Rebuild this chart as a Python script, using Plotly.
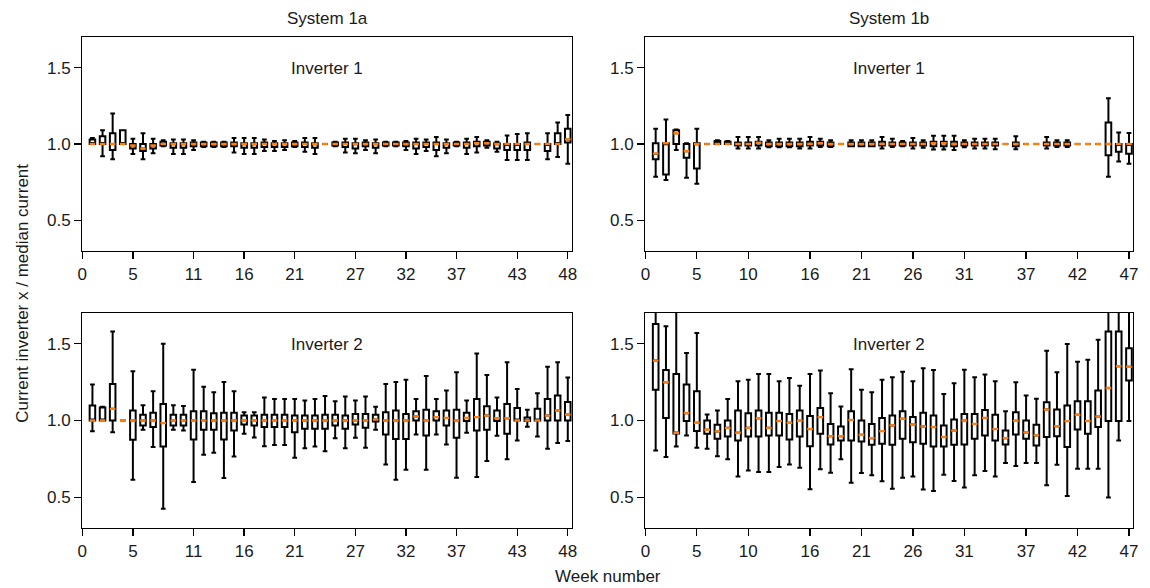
import plotly.graph_objects as go

# ---------------- data ----------------
weeks_1a = list(range(1, 49))
weeks_1b = list(range(1, 48))

xticks_1a = [0, 5, 11, 16, 21, 27, 32, 37, 43, 48]
xticks_1b = [0, 5, 10, 16, 21, 26, 31, 37, 42, 47]
yticks = [0.5, 1.0, 1.5]

# System 1a, Inverter 1
a1_low = [1.0, 0.92, 0.90, 1.0, 0.935, 0.90, 0.94, 0.985, 0.935, 0.935, 0.96, 0.98, 0.98, 0.98, 0.945, 0.935,
          0.935, 0.955, 0.955, 0.96, 0.98, 0.95, 0.935, 1.0, 0.985, 0.945, 0.94, 0.96, 0.94, 0.985, 0.985, 0.96,
          0.935, 0.955, 0.92, 0.94, 0.985, 0.935, 0.945, 0.975, 0.95, 0.895, 0.895, 0.895, 1.0, 0.90, 0.915, 0.87]
a1_q1 = [1.0, 1.0, 0.96, 1.0, 0.97, 0.955, 0.97, 0.99, 0.975, 0.975, 0.985, 0.985, 0.985, 0.985, 0.985, 0.975,
         0.975, 0.98, 0.98, 0.98, 0.985, 0.98, 0.975, 1.0, 0.99, 0.98, 0.97, 0.985, 0.975, 0.99, 0.99, 0.985,
         0.97, 0.98, 0.96, 0.975, 0.99, 0.975, 0.985, 0.99, 0.97, 0.96, 0.96, 0.96, 1.0, 0.955, 1.0, 1.01]
a1_med = [1.0, 1.0, 1.0, 1.0, 0.99, 0.97, 0.99, 1.0, 1.0, 1.0, 1.0, 1.0, 1.0, 1.0, 1.0, 1.0,
          1.0, 1.0, 1.0, 1.0, 1.0, 1.0, 1.0, 1.0, 1.0, 1.0, 1.0, 1.0, 1.0, 1.0, 1.0, 1.0,
          1.0, 1.0, 1.0, 1.0, 1.0, 1.0, 1.005, 1.005, 1.0, 1.0, 1.0, 1.0, 1.0, 1.0, 1.0, 1.03]
a1_q3 = [1.03, 1.05, 1.07, 1.09, 1.0, 1.0, 1.0, 1.015, 1.005, 1.005, 1.01, 1.01, 1.01, 1.01, 1.01, 1.005,
         1.005, 1.01, 1.005, 1.005, 1.01, 1.01, 1.005, 1.0, 1.01, 1.01, 1.005, 1.01, 1.005, 1.01, 1.01, 1.01,
         1.01, 1.01, 1.01, 1.005, 1.01, 1.01, 1.015, 1.015, 1.005, 1.0, 1.0, 1.01, 1.0, 1.0, 1.07, 1.10]
a1_high = [1.04, 1.09, 1.20, 1.09, 1.035, 1.07, 1.035, 1.025, 1.03, 1.03, 1.025, 1.015, 1.015, 1.015, 1.04, 1.04,
           1.04, 1.03, 1.02, 1.025, 1.02, 1.04, 1.04, 1.0, 1.015, 1.035, 1.035, 1.025, 1.03, 1.015, 1.015, 1.02,
           1.035, 1.03, 1.045, 1.03, 1.015, 1.035, 1.045, 1.025, 1.015, 1.055, 1.065, 1.07, 1.0, 1.07, 1.14, 1.19]

# System 1b, Inverter 1
b1_low = [0.785, 0.765, 0.96, 0.78, 0.74, 1.0, 1.0, 1.0, 0.97, 0.97, 0.97, 0.978, 0.978, 0.978, 0.97, 0.97,
          0.98, 0.98, 1.0, 0.985, 0.985, 0.985, 0.97, 0.98, 0.985, 0.97, 0.975, 0.964, 0.964, 0.96, 0.978, 0.97,
          0.97, 0.965, 1.0, 0.965, 1.0, 1.0, 0.97, 0.98, 0.98, 1.0, 1.0, 1.0, 0.785, 0.886, 0.87]
b1_q1 = [0.90, 0.80, 1.0, 0.91, 0.84, 1.0, 1.0, 1.0, 0.99, 0.99, 0.99, 0.985, 0.985, 0.985, 0.985, 0.99,
         0.99, 0.985, 1.0, 0.985, 0.985, 0.985, 0.99, 0.99, 0.99, 0.99, 0.99, 0.985, 0.985, 0.985, 0.99, 0.99,
         0.99, 0.99, 1.0, 0.985, 1.0, 1.0, 0.99, 0.99, 0.99, 1.0, 1.0, 1.0, 0.926, 0.95, 0.937]
b1_med = [0.937, 1.005, 1.07, 0.953, 1.0, 1.0, 1.0, 1.0, 1.0, 1.0, 1.008, 1.0, 1.0, 1.0, 1.0, 1.0,
          1.005, 1.0, 1.0, 1.0, 1.0, 1.0, 1.0, 1.0, 1.0, 1.0, 1.0, 1.005, 1.005, 1.0, 1.0, 1.0,
          1.0, 1.0, 1.0, 1.0, 1.0, 1.0, 1.0, 1.0, 1.0, 1.0, 1.0, 1.0, 1.0, 1.0, 1.0]
b1_q3 = [1.005, 1.005, 1.09, 1.0, 1.005, 1.0, 1.02, 1.015, 1.01, 1.01, 1.015, 1.01, 1.01, 1.01, 1.01, 1.015,
         1.015, 1.01, 1.0, 1.01, 1.01, 1.01, 1.015, 1.01, 1.01, 1.01, 1.01, 1.015, 1.015, 1.015, 1.01, 1.01,
         1.01, 1.01, 1.0, 1.01, 1.0, 1.0, 1.01, 1.01, 1.01, 1.0, 1.0, 1.0, 1.14, 1.0, 1.0]
b1_high = [1.10, 1.16, 1.095, 1.005, 1.10, 1.0, 1.025, 1.02, 1.045, 1.045, 1.045, 1.025, 1.035, 1.035, 1.035, 1.045,
           1.035, 1.025, 1.0, 1.025, 1.025, 1.025, 1.045, 1.035, 1.02, 1.04, 1.025, 1.054, 1.054, 1.054, 1.025, 1.035,
           1.035, 1.035, 1.0, 1.05, 1.0, 1.0, 1.045, 1.025, 1.025, 1.0, 1.0, 1.0, 1.30, 1.076, 1.072]

# System 1a, Inverter 2
a2_low = [0.93, 1.0, 0.924, 1.0, 0.615, 0.94, 0.827, 0.426, 0.94, 0.935, 0.60, 0.777, 0.79, 0.625, 0.766, 0.913,
          0.89, 0.833, 0.84, 0.84, 0.758, 0.82, 0.83, 0.80, 0.885, 0.82, 0.887, 0.823, 0.94, 0.714, 0.615, 0.68,
          0.909, 0.68, 0.909, 0.844, 0.628, 0.92, 0.632, 0.736, 0.90, 0.747, 0.87, 0.96, 0.896, 0.816, 0.853, 0.866]
a2_q1 = [1.0, 1.0, 1.0, 1.0, 0.874, 0.968, 0.957, 0.83, 0.968, 0.968, 0.877, 0.94, 0.94, 0.877, 0.935, 0.974,
         0.968, 0.957, 0.957, 0.957, 0.924, 0.946, 0.946, 0.946, 0.968, 0.946, 0.974, 0.952, 0.994, 0.909, 0.88, 0.88,
         1.0, 0.903, 1.0, 0.968, 0.887, 0.996, 0.935, 0.94, 0.996, 0.913, 1.0, 0.996, 1.0, 1.0, 1.0, 1.0]
a2_med = [1.0, 1.0, 1.076, 1.0, 1.0, 1.0, 1.0, 0.983, 1.0, 1.0, 1.0, 1.0, 1.0, 1.0, 1.0, 1.0,
          1.0, 1.0, 1.0, 1.0, 1.0, 1.0, 1.0, 1.0, 1.0, 1.0, 1.0, 1.0, 1.006, 1.0, 1.0, 1.0,
          1.026, 1.0, 1.022, 1.017, 1.0, 1.017, 1.022, 1.032, 1.015, 1.015, 1.0, 1.0, 1.0, 1.032, 1.065, 1.039]
a2_q3 = [1.097, 1.085, 1.238, 1.0, 1.065, 1.037, 1.05, 1.108, 1.037, 1.037, 1.06, 1.06, 1.048, 1.05, 1.05, 1.032,
         1.032, 1.037, 1.037, 1.037, 1.032, 1.032, 1.032, 1.037, 1.037, 1.032, 1.043, 1.043, 1.037, 1.054, 1.065, 1.043,
         1.06, 1.07, 1.06, 1.065, 1.07, 1.05, 1.14, 1.093, 1.065, 1.108, 1.082, 1.02, 1.076, 1.14, 1.162, 1.12]
a2_high = [1.234, 1.09, 1.58, 1.0, 1.32, 1.10, 1.19, 1.50, 1.10, 1.095, 1.33, 1.22, 1.184, 1.25, 1.19, 1.054,
           1.054, 1.15, 1.14, 1.14, 1.14, 1.13, 1.14, 1.16, 1.126, 1.156, 1.13, 1.156, 1.09, 1.238, 1.25, 1.266,
           1.14, 1.29, 1.14, 1.195, 1.314, 1.13, 1.437, 1.297, 1.15, 1.38, 1.205, 1.07, 1.177, 1.35, 1.38, 1.28]

# System 1b, Inverter 2
b2_low = [0.805, 0.762, 0.831, 0.903, 0.823, 0.816, 0.768, 0.747, 0.636, 0.675, 0.665, 0.665, 0.697, 0.714, 0.693, 0.552,
          0.682, 0.66, 0.747, 0.595, 0.658, 0.643, 0.604, 0.556, 0.628, 0.636, 0.55, 0.541, 0.647, 0.606, 0.563, 0.643,
          0.671, 0.636, 0.723, 0.703, 0.723, 0.723, 0.578, 0.712, 0.509, 0.686, 0.686, 0.686, 0.498, 0.87, 0.996]
b2_q1 = [1.2, 1.017, 0.915, 0.996, 0.931, 0.913, 0.881, 0.896, 0.87, 0.896, 0.896, 0.903, 0.903, 0.877, 0.896, 0.833,
         0.913, 0.844, 0.87, 0.87, 0.864, 0.842, 0.848, 0.842, 0.881, 0.859, 0.848, 0.831, 0.831, 0.842, 0.844, 0.881,
         0.903, 0.87, 0.844, 0.909, 0.881, 0.838, 0.892, 0.898, 0.827, 0.942, 0.913, 0.957, 0.996, 0.996, 1.26]
b2_med = [1.39, 1.249, 0.92, 1.048, 0.985, 0.94, 0.929, 0.952, 0.92, 0.952, 1.015, 0.952, 0.996, 0.985, 0.998, 0.944,
          1.022, 0.898, 0.898, 1.004, 0.907, 0.885, 0.931, 0.968, 1.011, 0.974, 0.961, 0.957, 0.892, 0.935, 1.0, 0.978,
          1.017, 0.944, 0.885, 0.998, 0.922, 0.903, 1.071, 0.963, 0.996, 1.037, 0.996, 1.026, 1.212, 1.353, 1.35]
b2_q3 = [1.628, 1.329, 1.303, 1.234, 1.19, 1.0, 0.972, 1.0, 1.065, 1.048, 1.065, 1.05, 1.05, 1.043, 1.065, 1.03,
         1.082, 0.978, 0.961, 1.06, 1.0, 0.978, 1.017, 1.032, 1.06, 1.022, 1.05, 1.032, 0.968, 1.006, 1.043, 1.043,
         1.069, 1.037, 0.935, 1.054, 1.0, 0.972, 1.119, 1.071, 1.097, 1.126, 1.126, 1.195, 1.58, 1.58, 1.47]
b2_high = [1.85, 1.613, 1.75, 1.44, 1.57, 1.039, 1.065, 1.14, 1.255, 1.266, 1.303, 1.303, 1.255, 1.277, 1.227, 1.303,
           1.325, 1.177, 1.091, 1.333, 1.2, 1.184, 1.266, 1.281, 1.318, 1.255, 1.34, 1.329, 1.173, 1.242, 1.331, 1.281,
           1.299, 1.255, 1.061, 1.249, 1.162, 1.141, 1.455, 1.314, 1.498, 1.383, 1.396, 1.526, 1.8, 1.8, 1.75]

# ---------------- layout constants ----------------
W, H = 1150, 588
BOX_W = 0.55
FONT = "Liberation Sans, Arial, sans-serif"
FS = 17
TXT = "#1a1a1a"

panels = [
    (weeks_1a, a1_low, a1_q1, a1_med, a1_q3, a1_high, [78 / W, 572 / W], [1 - 251 / H, 1 - 37 / H], [0, 48.42], xticks_1a, "Inverter 1"),
    (weeks_1b, b1_low, b1_q1, b1_med, b1_q3, b1_high, [646 / W, 1138 / W], [1 - 251 / H, 1 - 37 / H], [0, 47.4], xticks_1b, "Inverter 1"),
    (weeks_1a, a2_low, a2_q1, a2_med, a2_q3, a2_high, [78 / W, 572 / W], [1 - 528 / H, 1 - 313 / H], [0, 48.42], xticks_1a, "Inverter 2"),
    (weeks_1b, b2_low, b2_q1, b2_med, b2_q3, b2_high, [646 / W, 1138 / W], [1 - 528 / H, 1 - 313 / H], [0, 47.4], xticks_1b, "Inverter 2"),
]

fig = go.Figure()
layout = dict(
    width=W, height=H,
    margin=dict(l=0, r=0, t=0, b=0),
    paper_bgcolor="white", plot_bgcolor="white",
    showlegend=False, boxmode="overlay",
    font=dict(family=FONT, size=FS, color=TXT),
)

annotations = []
for i, (wk, lo, q1, md, q3, hi, xd, yd, xr, xt, lab) in enumerate(panels):
    sfx = "" if i == 0 else str(i + 1)
    xa, ya = "x" + sfx, "y" + sfx
    fig.add_trace(go.Box(
        x=wk, q1=q1, median=md, q3=q3, lowerfence=lo, upperfence=hi,
        xaxis=xa, yaxis=ya, width=BOX_W, whiskerwidth=0.85,
        line=dict(color="black", width=2), fillcolor="white",
        boxpoints=False, hoverinfo="skip",
    ))
    mx, my = [], []
    for w, m in zip(wk, md):
        mx += [w - BOX_W / 2, w + BOX_W / 2, None]
        my += [m, m, None]
    fig.add_trace(go.Scatter(
        x=mx, y=my, mode="lines", xaxis=xa, yaxis=ya,
        line=dict(color="#ff7f0e", width=2.4), hoverinfo="skip",
    ))
    layout["xaxis" + sfx] = dict(
        domain=xd, range=xr, tickmode="array", tickvals=xt, ticktext=[str(v) for v in xt],
        showline=True, linecolor="black", linewidth=1.3, mirror=True,
        ticks="outside", ticklen=7, tickwidth=1.3, tickcolor="black",
        showgrid=False, zeroline=False, anchor=ya,
        tickfont=dict(size=FS, color=TXT),
    )
    layout["yaxis" + sfx] = dict(
        domain=yd, range=[0.3, 1.7], tickmode="array", tickvals=yticks,
        ticktext=["0.5", "1.0", "1.5"],
        showline=True, linecolor="black", linewidth=1.3, mirror=True,
        ticks="outside", ticklen=7, tickwidth=1.3, tickcolor="black",
        showgrid=False, zeroline=False, anchor=xa,
        tickfont=dict(size=FS, color=TXT),
    )
    annotations.append(dict(
        text=lab, xref=xa + " domain", yref=ya + " domain",
        x=0.5, y=0.855, showarrow=False, font=dict(size=FS, color=TXT),
        xanchor="center", yanchor="middle",
    ))

annotations += [
    dict(text="System 1a", xref="paper", yref="paper", x=325 / W, y=1 - 18 / H,
         showarrow=False, xanchor="center", yanchor="middle", font=dict(size=FS, color=TXT)),
    dict(text="System 1b", xref="paper", yref="paper", x=892 / W, y=1 - 18 / H,
         showarrow=False, xanchor="center", yanchor="middle", font=dict(size=FS, color=TXT)),
    dict(text="Week number", xref="paper", yref="paper", x=608 / W, y=1 - 576 / H,
         showarrow=False, xanchor="center", yanchor="middle", font=dict(size=FS, color=TXT)),
    dict(text="Current inverter x / median current", xref="paper", yref="paper", x=18 / W, y=1 - 293 / H,
         showarrow=False, xanchor="center", yanchor="middle", textangle=-90, font=dict(size=FS, color=TXT)),
]
layout["annotations"] = annotations
fig.update_layout(**layout)

fig.write_html(
    "out.html",
    config={"displayModeBar": False, "staticPlot": True},
    post_script="document.body.style.margin='0';document.body.style.padding='0';document.body.style.overflow='hidden';",
)
